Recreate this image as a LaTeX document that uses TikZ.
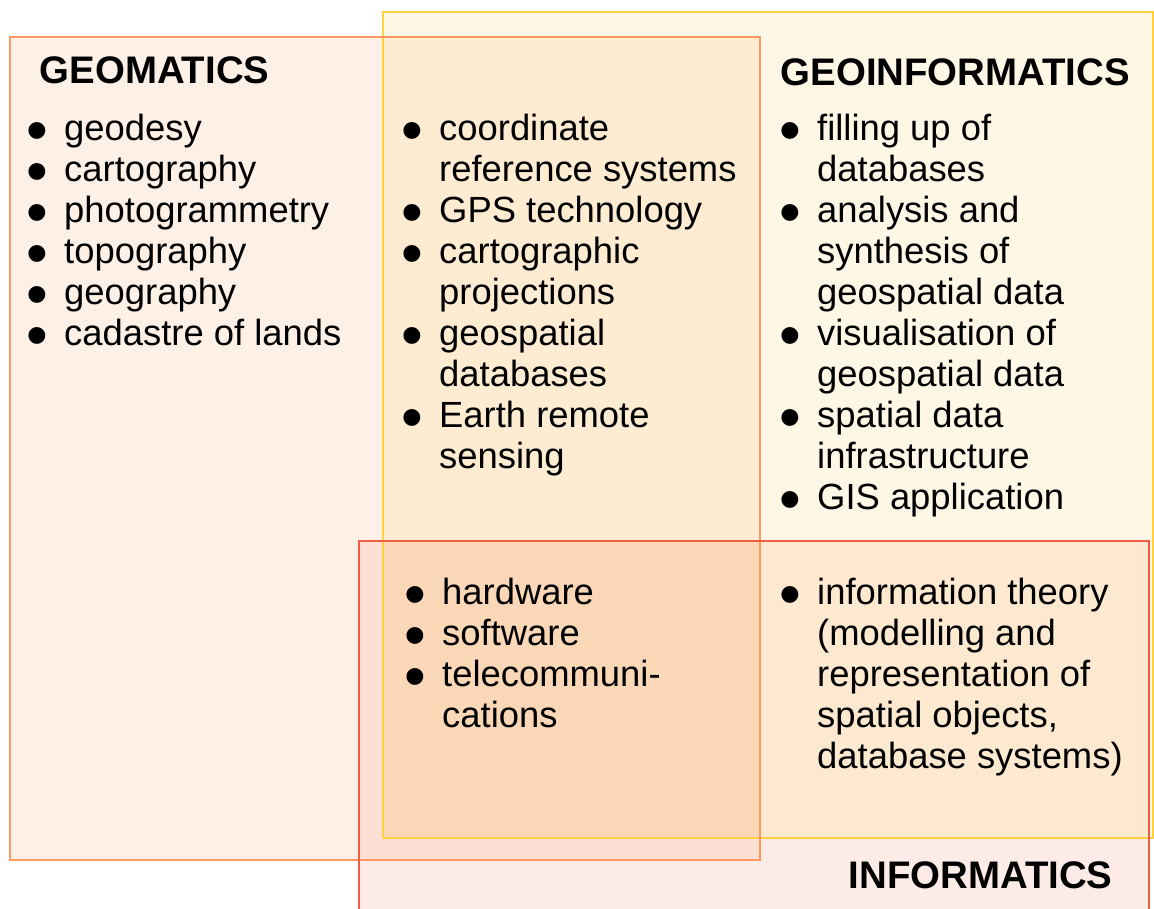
\documentclass[tikz,border=0pt]{standalone}
\usepackage{fontspec}
\setmainfont{Liberation Sans}
\definecolor{gFill}{HTML}{FDF0E6}
\definecolor{giFill}{HTML}{FEF7E6}
\definecolor{iFill}{HTML}{FCEBE6}
\definecolor{ggiFill}{HTML}{FDEBD2}
\definecolor{giFillI}{HTML}{FCE9D0}
\definecolor{giFillG}{HTML}{FBE0D3}
\definecolor{allFill}{HTML}{FAD8B7}
\definecolor{gLine}{HTML}{FF9960}
\definecolor{giLine}{HTML}{FFD040}
\definecolor{iLine}{HTML}{EE5E44}
\newcommand{\blt}{\llap{\raisebox{-11pt}[0pt][0pt]{\fontsize{62}{62}\selectfont •}\hspace{16pt}}}
\tikzset{
  lst/.style={anchor=base west, inner sep=0pt, font=\fontsize{36.4}{41}\selectfont, text=black},
  ttl/.style={anchor=base west, inner sep=0pt, font=\fontsize{38.4}{41}\selectfont\bfseries, text=black},
  frame/.style={line width=1.8pt}
}
\begin{document}
\begin{tikzpicture}[x=1pt,y=-1pt]
\useasboundingbox (0,0) rectangle (1154,908);
\clip (0,0) rectangle (1154,908);
\fill[white] (0,0) rectangle (1154,908);
% fills
\fill[gFill] (10,37) rectangle (760,860);
\fill[giFill] (383,12) rectangle (1153,838);
\fill[iFill] (359,541) rectangle (1149,915);
\fill[ggiFill] (383,37) rectangle (760,838);
\fill[giFillG] (359,541) rectangle (760,860);
\fill[giFillI] (383,541) rectangle (1149,838);
\fill[allFill] (383,541) rectangle (760,838);
% borders
\draw[frame, giLine] (383,12) rectangle (1153,838);
\draw[frame, gLine] (10,37) rectangle (760,860);
\draw[frame, iLine] (359,541) rectangle (1149,915);
% titles
\node[ttl] (tgeom) at (39.5,83) {GEOMATICS};
\node[ttl] (tgeoi) at (780.5,85) {GEOINFORMATICS};
\node[ttl] (tinfo) at (848.5,888) {INFORMATICS};
% lists
\node[lst] (lgeom) at (64,140) {\begin{tabular}[t]{@{}l@{}}
\blt geodesy\\
\blt cartography\\
\blt photogrammetry\\
\blt topography\\
\blt geography\\
\blt cadastre of lands
\end{tabular}};
\node[lst] (lgg) at (439,140) {\begin{tabular}[t]{@{}l@{}}
\blt coordinate\\
reference systems\\
\blt GPS technology\\
\blt cartographic\\
projections\\
\blt geospatial\\
databases\\
\blt Earth remote\\
sensing
\end{tabular}};
\node[lst] (lgeoi) at (817,140) {\begin{tabular}[t]{@{}l@{}}
\blt filling up of\\
databases\\
\blt analysis and\\
synthesis of\\
geospatial data\\
\blt visualisation of\\
geospatial data\\
\blt spatial data\\
infrastructure\\
\blt GIS application
\end{tabular}};
\node[lst] (lall) at (442,604) {\begin{tabular}[t]{@{}l@{}}
\blt hardware\\
\blt software\\
\blt telecommuni-\\
cations
\end{tabular}};
\node[lst] (linfo) at (817,604) {\begin{tabular}[t]{@{}l@{}}
\blt information theory\\
(modelling and\\
representation of\\
spatial objects,\\
database systems)
\end{tabular}};
\end{tikzpicture}
\end{document}
